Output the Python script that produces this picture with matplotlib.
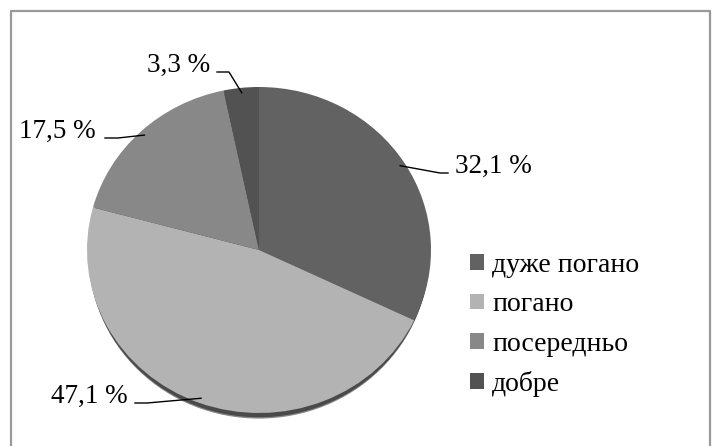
import matplotlib
matplotlib.use("Agg")
import matplotlib.pyplot as plt
from matplotlib.patches import Ellipse
import numpy as np

plt.rcParams['font.family'] = ['Liberation Serif', 'DejaVu Serif']

# data
categories = ['дуже погано', 'погано', 'посередньо', 'добре']
values = [32.1, 47.1, 17.5, 3.3]
value_labels = ['32,1 %', '47,1 %', '17,5 %', '3,3 %']
colors = ['#626262', '#b3b3b3', '#888888', '#525252']

W, H = 715, 446
fig = plt.figure(figsize=(W / 100, H / 100), dpi=100)

# pie (elliptical, like the original)
pie_left, pie_top, pie_w, pie_h = 87, 87, 344, 326
ax = fig.add_axes([pie_left / W, 1 - (pie_top + pie_h) / H, pie_w / W, pie_h / H])
# soft shadow under the lower rim
ax.add_patch(Ellipse((0, -0.03), 1.97, 2.0, color='#8a8a8a', zorder=0, clip_on=False))
ax.add_patch(Ellipse((0, -0.022), 1.975, 2.0, color='#4a4a4a', zorder=0, clip_on=False))
wedges, _ = ax.pie(values, colors=colors, startangle=90, counterclock=False,
                   radius=1, wedgeprops={'clip_on': False, 'linewidth': 0})
ax.set_xlim(-1, 1)
ax.set_ylim(-1, 1)
ax.set_aspect('auto')
ax.axis('off')

# overlay in pixel coords for labels, leader lines and frame
ov = fig.add_axes([0, 0, 1, 1])
ov.set_xlim(0, W)
ov.set_ylim(H, 0)
ov.axis('off')
ov.plot([11, 11, 710, 710], [H, 11, 11, H], color='#999999', lw=1.6)

# label layout: (text x, baseline y, ha, elbow, line end)
label_layout = [
    (455, 173, 'left', (440, 173), (448, 173)),
    (128, 403, 'right', (147, 403), (135, 403)),
    (96, 138, 'right', (118, 138), (105, 138)),
    (210, 72, 'right', (229, 72), (217, 72)),
]

total = sum(values)
cum = 0
to_ov = ov.transData.inverted()
for v, lab, (tx, ty, ha, elbow, end) in zip(values, value_labels, label_layout):
    mid = np.deg2rad(90 - 360 * (cum + v / 2) / total)
    cum += v
    start = ax.transData.transform((0.97 * np.cos(mid), 0.97 * np.sin(mid)))
    sx, sy = to_ov.transform(start)
    ov.plot([sx, elbow[0], end[0]], [sy, elbow[1], end[1]], color='black', lw=1.0)
    ov.text(tx, ty, lab, ha=ha, va='baseline', fontsize=19.5)

fig.legend(wedges, categories, loc='center left', bbox_to_anchor=(470 / W, 1 - 325 / H),
           frameon=False, fontsize=20, handlelength=0.5, handleheight=0.5,
           handletextpad=0.3, labelspacing=0.52, borderpad=0, borderaxespad=0)

fig.savefig('out.png', dpi=100, facecolor='white')
